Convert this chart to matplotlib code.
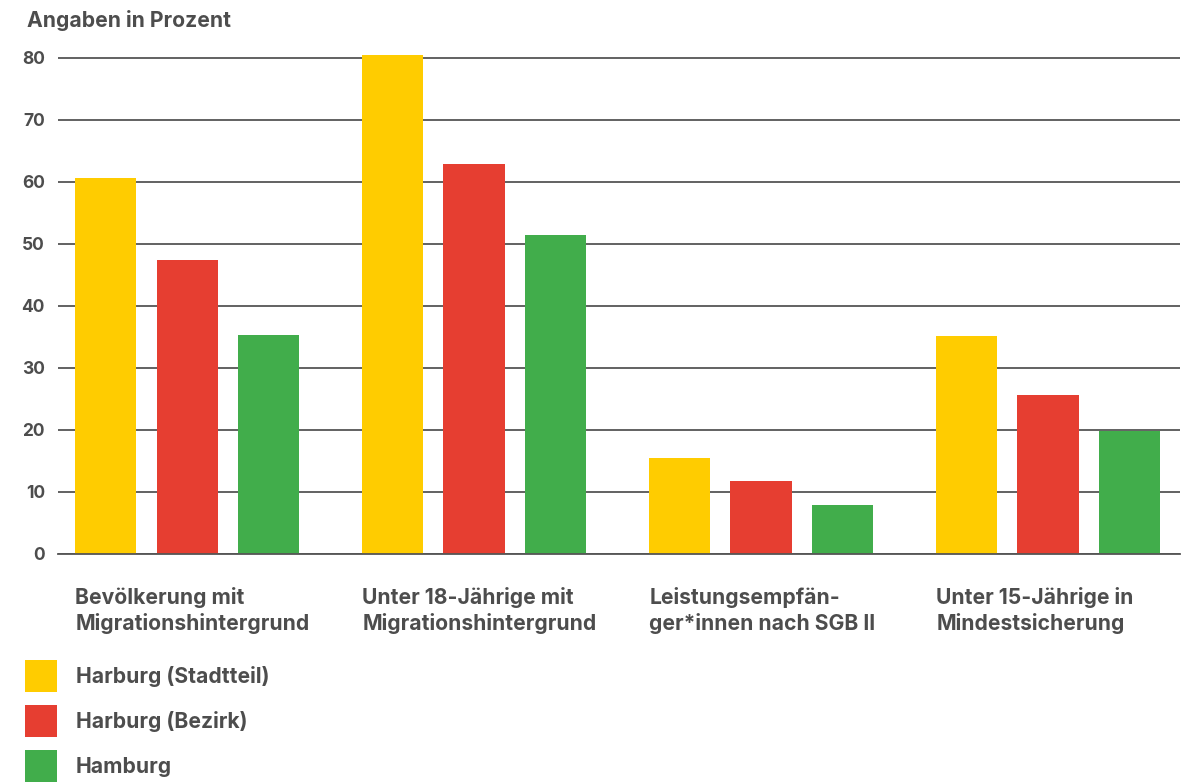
import matplotlib
matplotlib.use("Agg")
import matplotlib.pyplot as plt
import matplotlib.transforms as mtransforms
import numpy as np

plt.rcParams['font.family'] = ['Inter', 'DejaVu Sans']
plt.rcParams['font.weight'] = 'bold'

# data (percent)
categories = ["Bevölkerung mit\nMigrationshintergrund",
              "Unter 18-Jährige mit\nMigrationshintergrund",
              "Leistungsempfän-\nger*innen nach SGB II",
              "Unter 15-Jährige in\nMindestsicherung"]
series_names = ["Harburg (Stadtteil)", "Harburg (Bezirk)", "Hamburg"]
stadtteil = [60.7, 80.4, 15.4, 35.2]
bezirk = [47.4, 62.9, 11.7, 25.7]
hamburg = [35.3, 51.4, 7.9, 19.8]
yticks = [0, 10, 20, 30, 40, 50, 60, 70, 80]

colors = ['#FFCC00', '#E63E31', '#41AD4B']
text_col = '#4D4D4D'
grid_col = '#555555'
fs = 15.2

fig = plt.figure(figsize=(11.9, 7.83), dpi=100)
ax = fig.add_axes([0.0487, 0.2925, 0.9429, 0.6493])

x = np.arange(len(categories))
width = 0.213
offset = 0.283
bars = []
for i, vals in enumerate([stadtteil, bezirk, hamburg]):
    b = ax.bar(x + (i - 1) * offset, vals, width, color=colors[i],
               label=series_names[i], zorder=2)
    bars.append(b)

ax.set_xlim(-0.45, 3.46)
ax.set_ylim(0, 82)
ax.set_yticks(yticks)
ax.set_xticks([])
ax.yaxis.grid(True, color=grid_col, linewidth=1.3)
ax.set_axisbelow(True)
ax.axhline(0, color=grid_col, linewidth=1.3, zorder=3, clip_on=False)
for s in ax.spines.values():
    s.set_visible(False)
ax.tick_params(axis='y', length=0, pad=9.4, labelsize=12.5, labelcolor=text_col)
for lbl in ax.get_yticklabels():
    lbl.set_fontweight('bold')

# category labels below the groups, left aligned with the first bar
# (va='baseline' on multi-line text pins the last line)
trans = mtransforms.blended_transform_factory(ax.transData, fig.transFigure)
for xi, cat in zip(x, categories):
    ax.text(xi - offset - width / 2, 1 - 630 / 783, cat, transform=trans,
            ha='left', va='baseline', fontsize=fs, fontweight='bold',
            color=text_col, linespacing=1.31)

fig.text(27 / 1190, 1 - 27 / 783, "Angaben in Prozent", ha='left',
         va='baseline', fontsize=fs, fontweight='bold', color=text_col)

leg = ax.legend(handles=bars, loc='upper left',
                bbox_to_anchor=(25 / 1190, 1 - 660 / 783),
                bbox_transform=fig.transFigure, frameon=False,
                borderpad=0, borderaxespad=0, handlelength=1.52,
                handleheight=1.96, labelspacing=0.61, handletextpad=0.9,
                prop={'size': fs, 'weight': 'bold'})
for t in leg.get_texts():
    t.set_color(text_col)

fig.savefig("out.png", dpi=100)
